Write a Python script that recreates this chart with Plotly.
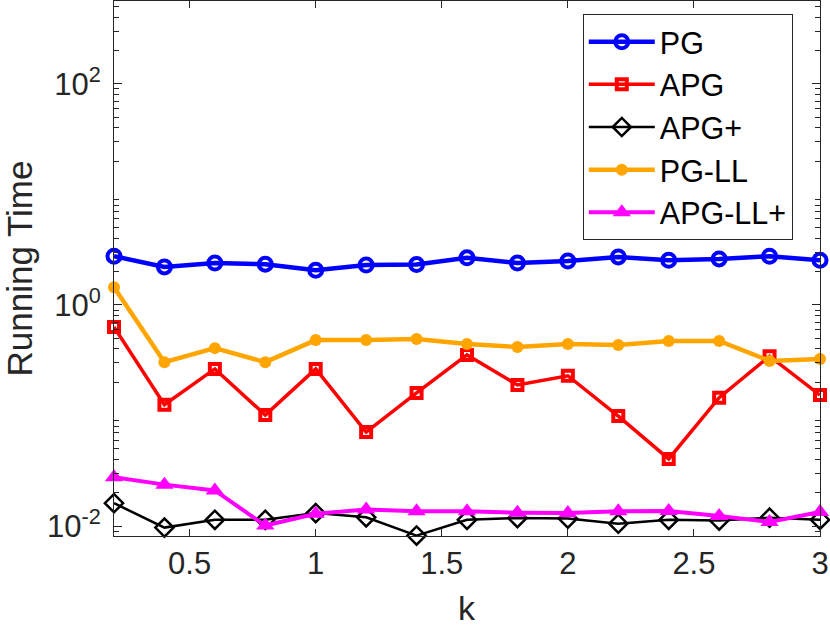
import plotly.graph_objects as go

# k values on the x axis
k = [0.2, 0.4, 0.6, 0.8, 1.0, 1.2, 1.4, 1.6, 1.8, 2.0, 2.2, 2.4, 2.6, 2.8, 3.0]

# running times
pg = [2.76, 2.21, 2.40, 2.34, 2.06, 2.30, 2.32, 2.67, 2.40, 2.50, 2.72, 2.54, 2.61, 2.76, 2.54]
apg = [0.632, 0.125, 0.264, 0.101, 0.264, 0.0708, 0.160, 0.353, 0.189, 0.229,
       0.0988, 0.0405, 0.145, 0.344, 0.153]
apg_plus = [0.0161, 0.00968, 0.0114, 0.0114, 0.0131, 0.0120, 0.0082, 0.0114, 0.0118,
            0.0117, 0.0105, 0.0114, 0.0112, 0.0119, 0.0114]
pg_ll = [1.45, 0.304, 0.407, 0.304, 0.481, 0.481, 0.493, 0.443, 0.417, 0.443,
         0.434, 0.473, 0.473, 0.312, 0.325]
apg_ll_plus = [0.0277, 0.0237, 0.0210, 0.0101, 0.0129, 0.0141, 0.0136, 0.0136, 0.0132,
               0.0131, 0.0136, 0.0137, 0.0123, 0.0109, 0.0134]

x_ticks = [0.5, 1, 1.5, 2, 2.5, 3]
x_tick_text = ["0.5", "1", "1.5", "2", "2.5", "3"]
y_ticks = [0.01, 1, 100]
y_tick_text = ["10<sup>-2</sup>", "10<sup>0</sup>", "10<sup>2</sup>"]

FONT = "Liberation Sans, Arial, sans-serif"
AXIS_COLOR = "#262626"

SERIES = [
    ("PG", pg, "#0000FF", 4.5, dict(symbol="circle-open", size=13, line=dict(width=4))),
    ("APG", apg, "#FF0000", 3.5, dict(symbol="square-open", size=10, line=dict(width=4))),
    ("APG+", apg_plus, "#000000", 2.5, dict(symbol="diamond-open", size=14, line=dict(width=2.5))),
    ("PG-LL", pg_ll, "#FFA500", 4.5, dict(symbol="circle", size=12)),
    ("APG-LL+", apg_ll_plus, "#FF00FF", 4, dict(symbol="triangle-up", size=16)),
]

fig = go.Figure()
for name, values, color, width, marker in SERIES:
    fig.add_trace(go.Scatter(
        x=k, y=values, name=name, mode="lines+markers",
        line=dict(color=color, width=width),
        marker=dict(color=color, **marker),
        cliponaxis=False,
    ))

minor_vals = [m * 10.0 ** e for e in range(-3, 3) for m in range(2, 10)]

axis_common = dict(
    showline=True, linecolor=AXIS_COLOR, linewidth=1, mirror="ticks",
    ticks="inside", tickcolor=AXIS_COLOR, showgrid=False, zeroline=False,
    automargin=False,
    tickfont=dict(family=FONT, size=31, color=AXIS_COLOR),
)

fig.update_xaxes(
    range=[0.2, 3], tickvals=x_ticks, ticktext=x_tick_text, ticklen=7,
    **axis_common,
)
fig.update_yaxes(
    type="log", range=[-2.09, 2.75], tickvals=y_ticks, ticktext=y_tick_text, ticklen=8,
    ticklabelstandoff=6,
    minor=dict(tickvals=minor_vals, ticks="inside", ticklen=5, tickcolor=AXIS_COLOR),
    **axis_common,
)

# axis titles placed as annotations so they sit where MATLAB put them
fig.add_annotation(
    text="k", xref="paper", yref="paper", x=0.5, y=0,
    xanchor="center", yanchor="middle", yshift=-72, showarrow=False,
    font=dict(family=FONT, size=34, color=AXIS_COLOR),
)
fig.add_annotation(
    text="Running Time", xref="paper", yref="paper", x=0, y=0.5,
    xanchor="center", yanchor="middle", xshift=-95, textangle=-90, showarrow=False,
    font=dict(family=FONT, size=35, color=AXIS_COLOR),
)

fig.update_layout(
    width=830, height=628,
    margin=dict(l=114, r=10, t=1, b=92),
    paper_bgcolor="white", plot_bgcolor="white",
    font=dict(family=FONT, color=AXIS_COLOR),
    legend=dict(
        x=0.664, y=0.975, xanchor="left", yanchor="top",
        bgcolor="white", bordercolor="#262626", borderwidth=1,
        font=dict(family=FONT, size=30.5, color="black"),
        itemwidth=66, tracegroupgap=0,
    ),
    showlegend=True,
)

fig.write_html(
    "out.html",
    config={"displayModeBar": False},
    post_script="document.body.style.margin='0';",
)
